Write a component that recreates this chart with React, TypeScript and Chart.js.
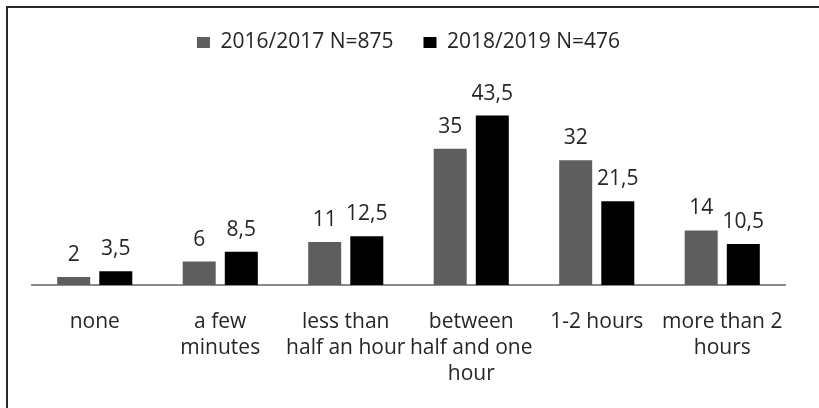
import React, { useEffect, useRef } from "react";
import { Chart, registerables } from "chart.js";

Chart.register(...registerables);

const categories: string[][] = [
  ["none"],
  ["a few", "minutes"],
  ["less than", "half an hour"],
  ["between", "half and one", "hour"],
  ["1-2 hours"],
  ["more than 2", "hours"],
];
const series2016: number[] = [2, 6, 11, 35, 32, 14];
const series2018: number[] = [3.5, 8.5, 12.5, 43.5, 21.5, 10.5];
const seriesLabels: string[] = ["2016/2017 N=875", "2018/2019 N=476"];

const FONT = "'Open Sans', Lato, sans-serif";
const TEXT = "#262626";

const framePlugin = {
  id: "frame",
  beforeDraw(chart: any) {
    const ctx = chart.ctx;
    ctx.save();
    ctx.fillStyle = "#ffffff";
    ctx.fillRect(0, 0, chart.width, chart.height);
    ctx.strokeStyle = "#2a2a2a";
    ctx.lineWidth = 2;
    ctx.beginPath();
    ctx.moveTo(7, chart.height);
    ctx.lineTo(7, 7);
    ctx.lineTo(chart.width, 7);
    ctx.stroke();
    ctx.restore();
  },
};

const labelPlugin = {
  id: "valueLabels",
  afterDatasetsDraw(chart: any) {
    const ctx = chart.ctx;
    ctx.save();
    ctx.font = `21px ${FONT}`;
    ctx.fillStyle = TEXT;
    ctx.textAlign = "center";
    ctx.textBaseline = "alphabetic";
    chart.data.datasets.forEach((ds: any, di: number) => {
      const meta = chart.getDatasetMeta(di);
      meta.data.forEach((bar: any, i: number) => {
        const v = ds.data[i];
        const txt = String(v).replace(".", ",");
        ctx.fillText(txt, bar.x, bar.y - 16);
      });
    });
    ctx.restore();
  },
};

export default function App() {
  const ref = useRef<HTMLCanvasElement | null>(null);
  useEffect(() => {
    document.body.style.margin = "0";
    const chart = new Chart(ref.current!, {
      type: "bar",
      data: {
        labels: categories,
        datasets: [
          {
            label: seriesLabels[0],
            data: series2016,
            backgroundColor: "#5e5e5e",
            categoryPercentage: 0.671,
            barPercentage: 0.784,
          },
          {
            label: seriesLabels[1],
            data: series2018,
            backgroundColor: "#000000",
            categoryPercentage: 0.671,
            barPercentage: 0.784,
          },
        ],
      },
      options: {
        responsive: false,
        animation: false,
        layout: { padding: { left: 32, right: 34, top: 2, bottom: -3 } },
        plugins: {
          tooltip: { enabled: false },
          legend: {
            display: true,
            position: "top",
            labels: {
              font: { family: FONT, size: 21 },
              color: TEXT,
              boxWidth: 13,
              boxHeight: 11,
              padding: 30,
            },
          },
        },
        scales: {
          x: {
            grid: { display: false, drawTicks: false },
            border: { display: true, color: "#8a8a8a", width: 2 },
            ticks: {
              font: { family: FONT, size: 21, lineHeight: 1.24 },
              color: TEXT,
              maxRotation: 0,
              autoSkip: false,
              padding: 24,
            },
          },
          y: {
            display: false,
            min: 0,
            max: 57,
          },
        },
      },
      plugins: [framePlugin, labelPlugin],
    });
    return () => chart.destroy();
  }, []);
  return (
    <div style={{ width: 819, height: 408 }}>
      <canvas ref={ref} width={819} height={408} />
    </div>
  );
}
